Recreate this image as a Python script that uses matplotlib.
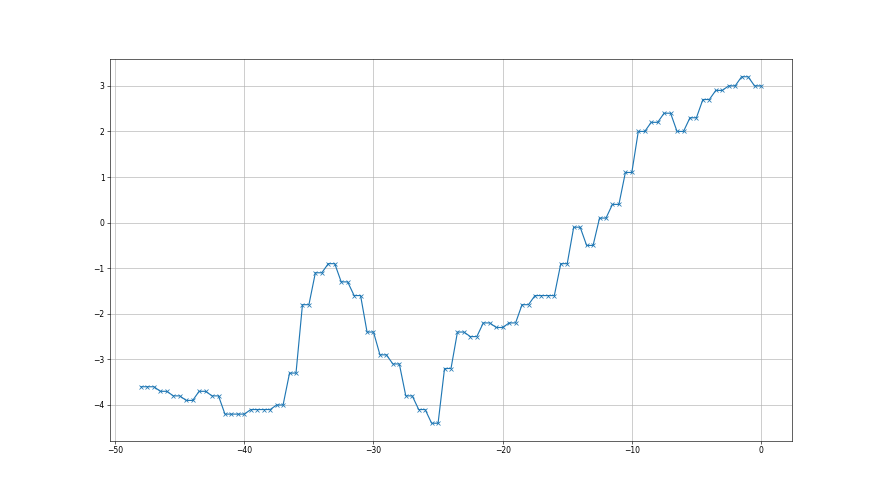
import numpy as np
import matplotlib
matplotlib.use("Agg")
import matplotlib.pyplot as plt

# x sampled every half unit from -48 to 0
x = np.arange(-48, 0.5, 0.5)
y = [-3.6,
     -3.6, -3.6, -3.7, -3.7, -3.8, -3.8, -3.9, -3.9, -3.7, -3.7,
     -3.8, -3.8, -4.2, -4.2, -4.2, -4.2, -4.1, -4.1, -4.1, -4.1,
     -4.0, -4.0, -3.3, -3.3, -1.8, -1.8, -1.1, -1.1, -0.9, -0.9,
     -1.3, -1.3, -1.6, -1.6, -2.4, -2.4, -2.9, -2.9, -3.1, -3.1,
     -3.8, -3.8, -4.1, -4.1, -4.4, -4.4, -3.2, -3.2, -2.4, -2.4,
     -2.5, -2.5, -2.2, -2.2, -2.3, -2.3, -2.2, -2.2, -1.8, -1.8,
     -1.6, -1.6, -1.6, -1.6, -0.9, -0.9, -0.1, -0.1, -0.5, -0.5,
     0.1, 0.1, 0.4, 0.4, 1.1, 1.1, 2.0, 2.0, 2.2, 2.2,
     2.4, 2.4, 2.0, 2.0, 2.3, 2.3, 2.7, 2.7, 2.9, 2.9,
     3.0, 3.0, 3.2, 3.2, 3.0, 3.0]

fig = plt.figure(figsize=(16, 9), dpi=55)
ax = fig.add_subplot(111)
ax.plot(x, y, marker='x')
ax.grid(True)

fig.savefig('out.png', dpi=55)
